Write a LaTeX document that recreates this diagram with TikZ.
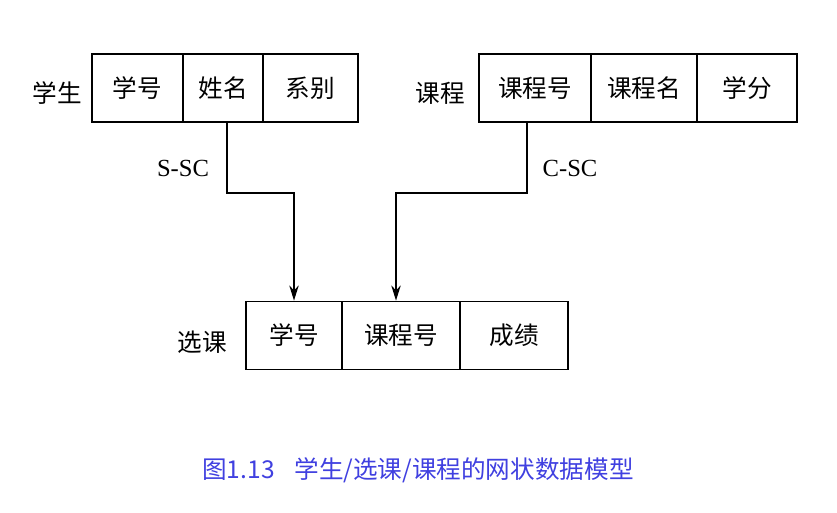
\documentclass[tikz,border=0pt]{standalone}
\usepackage{fontspec}
\setmainfont{Liberation Serif}
\newfontfamily\cjk{Noto Sans CJK SC}
\usetikzlibrary{arrows.meta}
\definecolor{capblue}{RGB}{64,64,224}

\begin{document}
\begin{tikzpicture}[x=0.03cm, y=-0.03cm,
  cell/.style={draw, line width=1.5pt, minimum height=2.04cm, inner sep=0pt,
               font=\cjk\fontsize{21}{24}\selectfont},
  lbl/.style={font=\cjk\fontsize{21}{24}\selectfont, inner sep=0pt},
  setname/.style={font=\fontsize{21}{24}\selectfont, inner sep=0pt},
  arr/.style={-{Stealth[length=4.5mm, width=2.8mm, inset=1.4mm]}, line width=1.4pt}
]
\useasboundingbox (0,0) rectangle (837,513);

% Student record
\node[lbl] at (57,93) (stulbl) {学生};
\node[cell, minimum width=2.73cm] at (137.5,88) (sno)   {学号};
\node[cell, minimum width=2.40cm] at (223,88)   (sname) {姓名};
\node[cell, minimum width=2.85cm] at (310.5,88) (sdept) {系别};

% Course record
\node[lbl] at (440,93) (crslbl) {课程};
\node[cell, minimum width=3.36cm] at (535,88) (cno)    {课程号};
\node[cell, minimum width=3.18cm] at (644,88) (cname)  {课程名};
\node[cell, minimum width=3.00cm] at (747,88) (credit) {学分};

% Selection record
\node[lbl] at (202,342) (sclbl) {选课};
\node[cell, minimum width=2.88cm] at (294,335.5) (scsno)   {学号};
\node[cell, minimum width=3.54cm] at (401,335.5) (sccno)   {课程号};
\node[cell, minimum width=3.24cm] at (514,335.5) (scgrade) {成绩};

% Set names
\node[setname] at (183,168) (ssc) {S-SC};
\node[setname] at (570,168) (csc) {C-SC};

% Arrows
\draw[arr] ([xshift=0.12cm]sname.south) -- ++(0,70) -| (scsno.north);
\draw[arr] ([xshift=-0.24cm]cno.south)  -- ++(0,70) -| ([xshift=-0.15cm]sccno.north);

% Caption
\node[font=\cjk\fontsize{21}{24}\selectfont, text=capblue] at (418,470) (caption)
  {图1.13\hspace{0.8em}学生/选课/课程的网状数据模型};

\end{tikzpicture}
\end{document}
